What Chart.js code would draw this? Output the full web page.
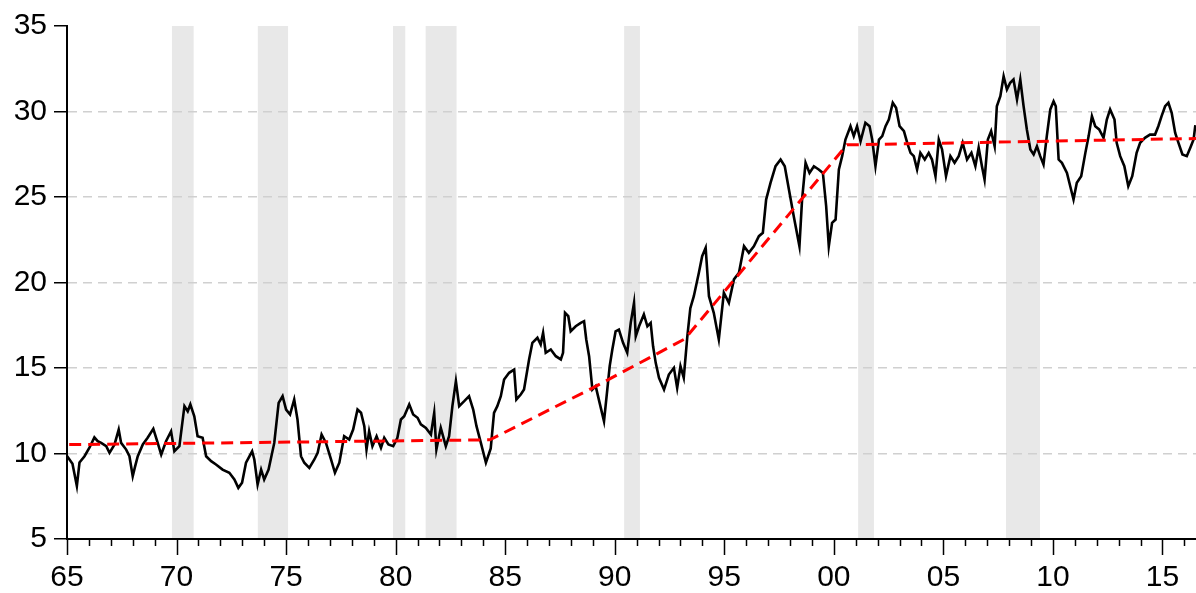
<!DOCTYPE html>
<html lang="en">
<head>
    <meta charset="UTF-8">
    <title>Series with trend and recession bands</title>
    <script src="https://cdn.jsdelivr.net/npm/chart.js"></script>
    <style>
        body {
            margin: 0;
            padding: 0;
            background: #ffffff;
        }
        #chartBox {
            width: 1196px;
            height: 593px;
        }
    </style>
</head>
<body>
    <div id="chartBox">
        <canvas id="myChart" width="1196" height="593"></canvas>
    </div>

    <script>
        // Black series (fractional years / values)
        const seriesYears = [
            1965.00, 1965.25, 1965.45, 1965.57, 1965.80, 1966.03, 1966.25, 1966.40, 1966.56, 1966.79,
            1966.94, 1967.17, 1967.36, 1967.47, 1967.70, 1967.85, 1968.00, 1968.10, 1968.23, 1968.46,
            1968.68, 1968.94, 1969.14, 1969.30, 1969.52, 1969.75, 1969.90, 1970.13, 1970.36, 1970.51,
            1970.63, 1970.81, 1970.96, 1971.19, 1971.35, 1971.58, 1971.80, 1972.10, 1972.41, 1972.64,
            1972.82, 1972.99, 1973.17, 1973.45, 1973.55, 1973.70, 1973.86, 1974.00, 1974.20, 1974.46,
            1974.66, 1974.84, 1975.00, 1975.18, 1975.37, 1975.52, 1975.68, 1975.83, 1976.06, 1976.29,
            1976.44, 1976.62, 1976.82, 1977.05, 1977.23, 1977.43, 1977.65, 1977.88, 1978.06, 1978.26,
            1978.42, 1978.57, 1978.67, 1978.79, 1978.94, 1979.13, 1979.33, 1979.48, 1979.67, 1979.89,
            1980.08, 1980.24, 1980.39, 1980.62, 1980.80, 1981.00, 1981.15, 1981.38, 1981.61, 1981.76,
            1981.86, 1982.06, 1982.29, 1982.44, 1982.59, 1982.75, 1982.90, 1983.13, 1983.35, 1983.54,
            1983.69, 1983.89, 1984.12, 1984.34, 1984.49, 1984.64, 1984.80, 1984.95, 1985.18, 1985.41,
            1985.51, 1985.71, 1985.86, 1986.09, 1986.24, 1986.47, 1986.62, 1986.73, 1986.85, 1987.08,
            1987.31, 1987.54, 1987.64, 1987.73, 1987.88, 1987.99, 1988.22, 1988.45, 1988.60, 1988.70,
            1988.83, 1988.98, 1989.13, 1989.31, 1989.51, 1989.66, 1989.77, 1989.89, 1990.04, 1990.19,
            1990.38, 1990.57, 1990.73, 1990.88, 1990.96, 1991.11, 1991.33, 1991.49, 1991.64, 1991.75,
            1991.87, 1992.02, 1992.25, 1992.47, 1992.70, 1992.85, 1993.00, 1993.15, 1993.31, 1993.45,
            1993.61, 1993.84, 1993.99, 1994.15, 1994.30, 1994.52, 1994.75, 1994.98, 1995.21, 1995.44,
            1995.67, 1995.90, 1996.12, 1996.35, 1996.58, 1996.76, 1996.91, 1997.11, 1997.34, 1997.57,
            1997.76, 1997.95, 1998.17, 1998.43, 1998.55, 1998.71, 1998.89, 1999.09, 1999.31, 1999.50,
            1999.65, 1999.77, 1999.92, 2000.08, 2000.23, 2000.38, 2000.53, 2000.76, 2000.91, 2001.06,
            2001.22, 2001.44, 2001.63, 2001.75, 2001.90, 2002.06, 2002.21, 2002.36, 2002.51, 2002.69,
            2002.84, 2003.00, 2003.20, 2003.35, 2003.50, 2003.65, 2003.80, 2003.95, 2004.15, 2004.33,
            2004.48, 2004.64, 2004.79, 2004.94, 2005.12, 2005.32, 2005.51, 2005.70, 2005.88, 2006.08,
            2006.28, 2006.46, 2006.61, 2006.76, 2006.88, 2007.03, 2007.18, 2007.34, 2007.44, 2007.60,
            2007.75, 2007.90, 2008.05, 2008.20, 2008.36, 2008.51, 2008.66, 2008.81, 2008.97, 2009.12,
            2009.27, 2009.42, 2009.57, 2009.72, 2009.88, 2010.03, 2010.13, 2010.26, 2010.41, 2010.64,
            2010.79, 2010.94, 2011.09, 2011.29, 2011.48, 2011.63, 2011.78, 2011.93, 2012.11, 2012.31,
            2012.46, 2012.61, 2012.81, 2012.91, 2013.07, 2013.26, 2013.44, 2013.62, 2013.82, 2013.98,
            2014.20, 2014.43, 2014.66, 2014.81, 2014.96, 2015.12, 2015.27, 2015.42, 2015.58, 2015.73,
            2015.91, 2016.11, 2016.27, 2016.42, 2016.50
        ];
        const seriesValues = [
            9.85, 9.40, 8.10, 9.47, 9.84, 10.35, 10.94, 10.72, 10.62, 10.43,
            10.04, 10.53, 11.40, 10.62, 10.23, 9.84, 8.67, 9.20, 9.84, 10.53,
            10.92, 11.44, 10.62, 9.94, 10.72, 11.30, 10.13, 10.43, 12.77, 12.47,
            12.87, 12.18, 11.01, 10.92, 9.84, 9.55, 9.36, 9.06, 8.87, 8.48,
            7.99, 8.29, 9.46, 10.13, 9.65, 8.19, 9.06, 8.48, 9.06, 10.62,
            12.96, 13.35, 12.57, 12.28, 13.16, 11.99, 9.84, 9.46, 9.16, 9.65,
            10.04, 11.11, 10.62, 9.65, 8.87, 9.46, 11.01, 10.82, 11.40, 12.57,
            12.38, 11.60, 10.23, 11.30, 10.43, 11.01, 10.33, 10.92, 10.53, 10.43,
            10.92, 11.99, 12.18, 12.87, 12.28, 12.09, 11.70, 11.50, 11.11, 12.38,
            10.23, 11.50, 10.43, 11.01, 12.77, 14.23, 12.77, 13.06, 13.35, 12.57,
            11.60, 10.62, 9.46, 10.30, 12.38, 12.77, 13.35, 14.33, 14.72, 14.91,
            13.16, 13.45, 13.74, 15.50, 16.47, 16.77, 16.37, 17.06, 15.89, 16.08,
            15.69, 15.50, 15.89, 18.23, 18.03, 17.15, 17.44, 17.64, 17.74, 16.67,
            15.69, 13.74, 13.94, 12.96, 11.89, 13.74, 15.11, 16.08, 17.15, 17.25,
            16.47, 15.89, 17.64, 18.81, 16.86, 17.44, 18.13, 17.44, 17.64, 16.27,
            15.30, 14.43, 13.74, 14.62, 15.01, 13.84, 15.11, 14.43, 16.80, 18.50,
            19.20, 20.57, 21.54, 22.03, 19.20, 18.23, 16.67, 19.40, 18.81, 20.18,
            20.57, 22.12, 21.74, 22.12, 22.71, 22.91, 24.85, 25.83, 26.80, 27.19,
            26.80, 25.44, 23.88, 22.12, 24.85, 27.00, 26.41, 26.80, 26.61, 26.41,
            24.46, 22.12, 23.49, 23.68, 26.61, 27.39, 28.36, 29.14, 28.56, 29.14,
            28.26, 29.34, 29.14, 28.36, 26.80, 28.36, 28.56, 29.14, 29.53, 30.51,
            30.22, 29.14, 28.85, 28.17, 27.58, 27.39, 26.61, 27.58, 27.19, 27.58,
            27.19, 26.22, 28.36, 27.78, 26.22, 27.39, 27.00, 27.39, 28.17, 27.19,
            27.58, 26.80, 27.88, 26.80, 26.02, 28.36, 28.85, 27.97, 30.31, 30.90,
            32.06, 31.29, 31.68, 31.87, 30.70, 31.87, 30.31, 28.95, 27.78, 27.49,
            27.97, 27.39, 26.90, 28.56, 30.12, 30.60, 30.31, 27.19, 27.00, 26.41,
            25.63, 24.85, 25.83, 26.22, 27.58, 28.56, 29.73, 29.14, 28.95, 28.46,
            29.53, 30.12, 29.53, 28.17, 27.39, 26.80, 25.63, 26.22, 27.58, 28.17,
            28.46, 28.65, 28.65, 29.14, 29.73, 30.31, 30.51, 29.92, 28.75, 28.17,
            27.49, 27.39, 27.88, 28.36, 29.20
        ];

        // Red dashed trend (break points)
        const trendYears = [1965.1, 1984.3, 1989.0, 1993.2, 2000.6, 2016.53];
        const trendValues = [10.52, 10.80, 13.84, 16.70, 28.05, 28.42];

        // Shaded recession periods
        const bandStarts = [1969.79, 1973.71, 1979.88, 1981.37, 1990.43, 2001.11, 2007.86];
        const bandEnds = [1970.78, 1975.09, 1980.44, 1982.78, 1991.15, 2001.83, 2009.41];

        // Axis ticks
        const xLabelYears = [1965, 1970, 1975, 1980, 1985, 1990, 1995, 2000, 2005, 2010, 2015];
        const yTicks = [5, 10, 15, 20, 25, 30, 35];

        const xMin = 1965;
        const xMax = 2016.53;

        // grey bands behind everything
        const bandPlugin = {
            id: 'bands',
            beforeDraw(chart) {
                const { ctx, chartArea, scales } = chart;
                ctx.save();
                ctx.fillStyle = '#e8e8e8';
                for (let i = 0; i < bandStarts.length; i++) {
                    const x1 = scales.x.getPixelForValue(bandStarts[i]);
                    const x2 = scales.x.getPixelForValue(bandEnds[i]);
                    ctx.fillRect(x1, chartArea.top, x2 - x1, chartArea.bottom - chartArea.top);
                }
                ctx.restore();
            }
        };

        // yearly tick marks below the x axis (long ones every 5 years)
        const yearTickPlugin = {
            id: 'yearTicks',
            afterDraw(chart) {
                const { ctx, chartArea, scales } = chart;
                ctx.save();
                ctx.strokeStyle = '#000';
                ctx.lineWidth = 1.5;
                ctx.beginPath();
                for (let yr = 1965; yr <= Math.floor(xMax); yr++) {
                    const px = Math.round(scales.x.getPixelForValue(yr)) + 0.5;
                    const len = yr % 5 === 0 ? 16 : 7;
                    ctx.moveTo(px, chartArea.bottom);
                    ctx.lineTo(px, chartArea.bottom + len);
                }
                ctx.stroke();
                ctx.restore();
            }
        };

        const tickFont = { family: "'Liberation Sans', Arial, sans-serif", size: 30 };

        const ctx = document.getElementById('myChart').getContext('2d');
        const myChart = new Chart(ctx, {
            type: 'line',
            data: {
                datasets: [{
                    label: 'Trend',
                    data: trendYears.map((x, i) => ({ x: x, y: trendValues[i] })),
                    borderColor: '#ff0000',
                    borderWidth: 3,
                    borderDash: [12, 7],
                    pointRadius: 0,
                    fill: false,
                    order: 0
                },
                {
                    label: 'Series',
                    data: seriesYears.map((x, i) => ({ x: x, y: seriesValues[i] })),
                    borderColor: '#000000',
                    borderWidth: 2.6,
                    pointRadius: 0,
                    fill: false,
                    order: 1
                }]
            },
            options: {
                responsive: false,
                animation: false,
                layout: {
                    padding: { top: 26, right: 0, left: 0, bottom: 0 }
                },
                plugins: {
                    legend: { display: false },
                    tooltip: { enabled: false }
                },
                scales: {
                    x: {
                        type: 'linear',
                        min: xMin,
                        max: xMax,
                        afterFit: s => { s.height = 54; s.paddingRight = 0; s.paddingLeft = 0; },
                        afterBuildTicks: s => { s.ticks = xLabelYears.map(v => ({ value: v })); },
                        grid: { display: false, drawTicks: false },
                        border: { display: true, color: '#000', width: 2 },
                        ticks: {
                            autoSkip: false,
                            maxRotation: 0,
                            padding: 21,
                            color: '#000',
                            font: tickFont,
                            callback: v => String(v % 100).padStart(2, '0')
                        }
                    },
                    y: {
                        min: 5,
                        max: 35,
                        afterFit: s => { s.width = 67; },
                        afterBuildTicks: s => { s.ticks = yTicks.map(v => ({ value: v })); },
                        grid: {
                            color: c => (c.tick && c.tick.value > 5 && c.tick.value < 35) ? '#d0d0d0' : 'rgba(0,0,0,0)',
                            lineWidth: 1.5,
                            drawTicks: true,
                            tickLength: 13,
                            tickColor: '#000',
                            tickWidth: 1.5
                        },
                        border: { display: true, color: '#000', width: 2, dash: [9, 6] },
                        ticks: {
                            padding: 7,
                            color: '#000',
                            font: tickFont
                        }
                    }
                }
            },
            plugins: [bandPlugin, yearTickPlugin]
        });
    </script>
</body>
</html>
